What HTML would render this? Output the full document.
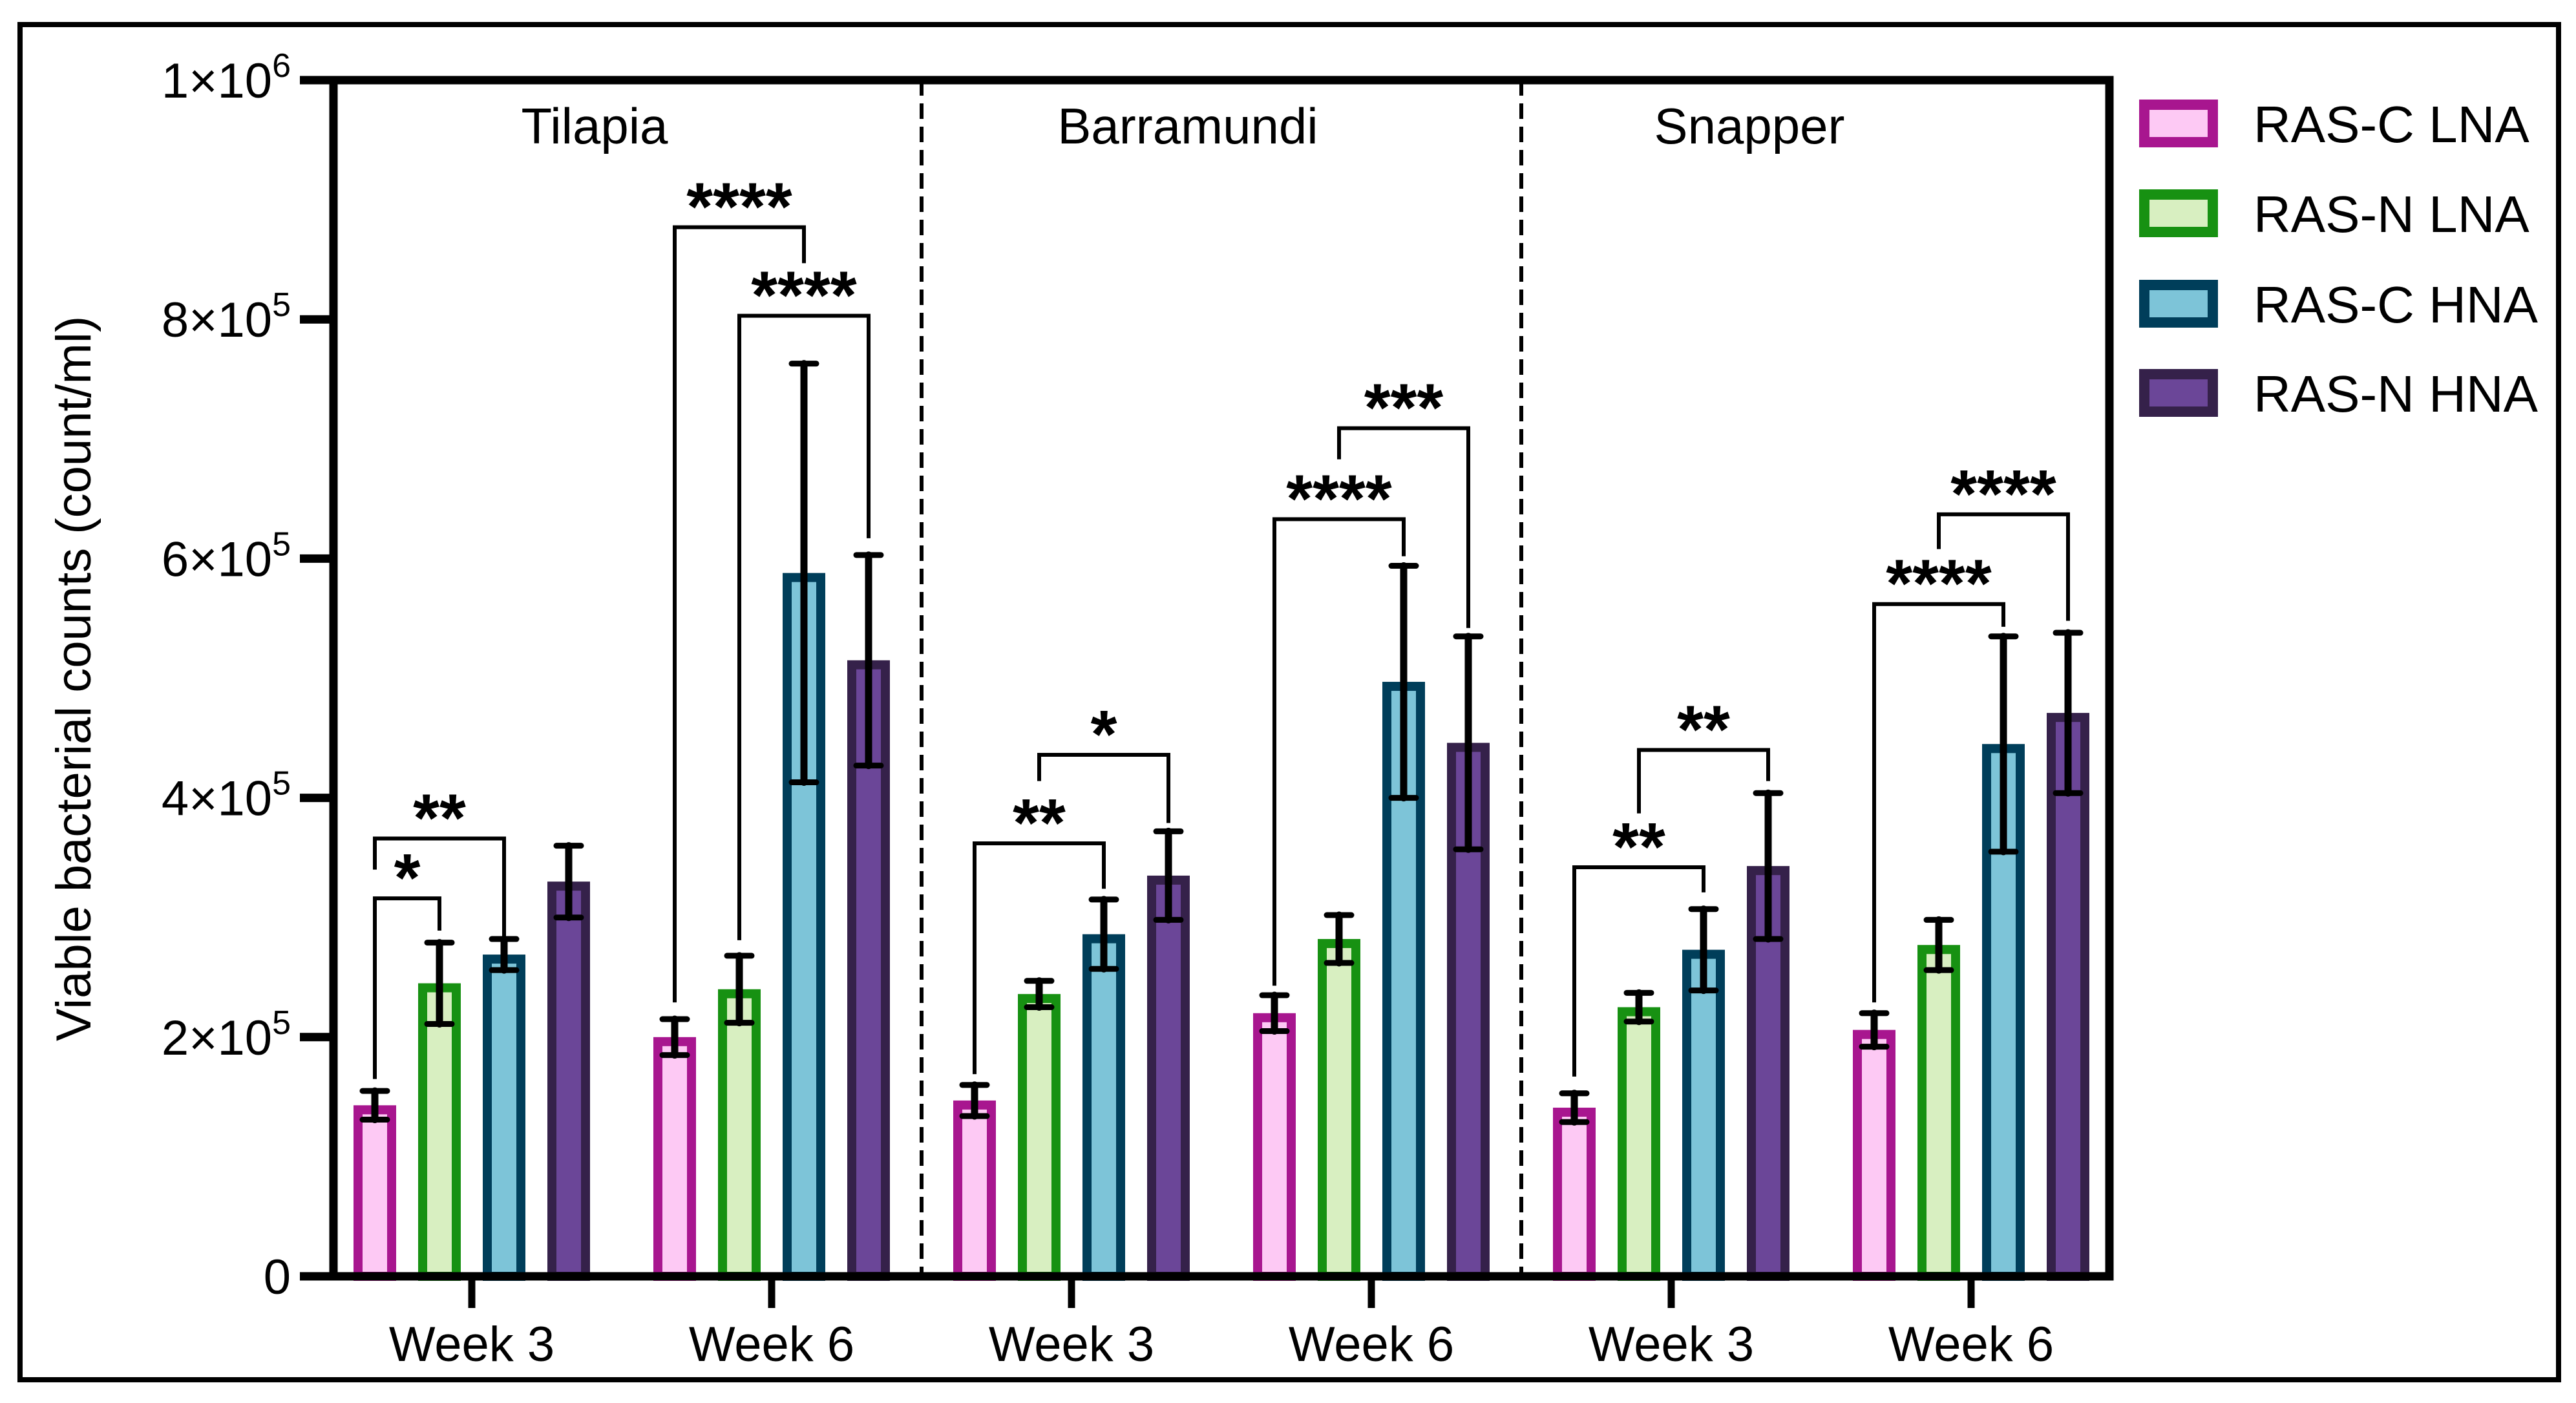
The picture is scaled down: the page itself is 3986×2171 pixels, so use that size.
<!DOCTYPE html>
<html><head><meta charset="utf-8"><style>
html,body{margin:0;padding:0;background:#fff;}
svg{display:block;}
text{font-family:"Liberation Sans",Arial,sans-serif;fill:#000;}
</style></head><body>
<svg id="chart" width="3986" height="2171" viewBox="0 0 3986 2171" xmlns="http://www.w3.org/2000/svg">
<rect x="31" y="38" width="3928" height="2097" fill="none" stroke="#000" stroke-width="8"/>
<g id="plot"></g>
</svg>
<script>
const groups = ["Week 3","Week 6","Week 3","Week 6","Week 3","Week 6"];
const panels = ["Tilapia","Barramundi","Snapper"];
const series = ["RAS-C LNA","RAS-N LNA","RAS-C HNA","RAS-N HNA"];
const rasCLNA = [143000,200000,147000,220000,141000,206000];
const rasNLNA = [245000,240000,236000,282000,225000,277000];
const rasCHNA = [269000,588000,286000,497000,273000,445000];
const rasNHNA = [330000,515000,335000,446000,343000,471000];
const errCLNA = [12000,15000,13000,15000,12000,14000];
const errNLNA = [34000,28000,11000,20000,12000,21000];
const errCHNA = [13000,175000,29000,97000,34000,90000];
const errNHNA = [30000,88000,37000,89000,61000,67000];
const yTicks = [0,200000,400000,600000,800000,1000000];
const yTickBase = ["0","2×10","4×10","6×10","8×10","1×10"];
const yTickExp = ["","5","5","5","5","6"];
// brackets: group, barA, barB, level, leftEnd, rightEnd, label
const brackets = [
 [0,0,1,316000,165000,289000,"*"],
 [0,0,2,366000,340000,284000,"**"],
 [1,0,2,877000,229000,847000,"****"],
 [1,1,3,803000,281000,617000,"****"],
 [2,0,2,362000,169000,324000,"**"],
 [2,1,3,436000,414000,379000,"*"],
 [3,0,2,633000,243000,602000,"****"],
 [3,1,3,709000,683000,542000,"***"],
 [4,0,2,342000,167000,321000,"**"],
 [4,1,3,440000,387000,414000,"**"],
 [5,0,2,562000,229000,543000,"****"],
 [5,1,3,637000,608000,548000,"****"]
];
const vals=[rasCLNA,rasNLNA,rasCHNA,rasNHNA];
const errs=[errCLNA,errNLNA,errCHNA,errNHNA];
const fills=["#fdc9f4","#d8efc1","#7dc4d8","#6b4698"];
const strokes=["#a8168f","#179112","#003e5a","#35214a"];
const NS="http://www.w3.org/2000/svg";
const g=document.getElementById('plot');
const X0=516,X1=3264,Y0=1975,Y1=124;
function y(v){return Y0-(v/1000000)*(Y0-Y1);}
function gx(i){return 730+i*464;}
function bx(i,j){return gx(i)+(j-1.5)*100;}
function mk(tag,attrs,parent){const e=document.createElementNS(NS,tag);for(const k in attrs)e.setAttribute(k,attrs[k]);(parent||g).appendChild(e);return e;}
for(let j=0;j<4;j++){for(let i=0;i<groups.length;i++){
 const v=vals[j][i],cx=bx(i,j),w=66,sw=14;
 const r=mk('rect',{x:cx-w/2+sw/2,y:y(v)+sw/2,width:w-sw,height:Y0-y(v)-sw/2,fill:fills[j],stroke:strokes[j],'stroke-width':sw});
 
 
}}
for(let j=0;j<4;j++){for(let i=0;i<groups.length;i++){
 const v=vals[j][i],e=errs[j][i],cx=bx(i,j);
 const eg=mk('g',{stroke:'#000','stroke-linecap':'round'});
 
 
 mk('line',{x1:cx,x2:cx,y1:y(v+e),y2:y(v-e),'stroke-width':11},eg);
 mk('line',{x1:cx-19,x2:cx+19,y1:y(v+e),y2:y(v+e),'stroke-width':9},eg);
 mk('line',{x1:cx-19,x2:cx+19,y1:y(v-e),y2:y(v-e),'stroke-width':9},eg);
}}
brackets.forEach(b=>{
 const [i,a,c,lv,le,re,lab]=b;
 const xa=bx(i,a),xc=bx(i,c);
 const p=mk('path',{d:`M${xa},${y(le)}V${y(lv)}H${xc}V${y(re)}`,fill:'none',stroke:'#000','stroke-width':6});
 
 
 const t=mk('text',{x:(xa+xc)/2,y:y(lv)+4,'text-anchor':'middle','font-size':105,'font-weight':'bold'});
 t.textContent=lab;
 
 
});
[0,1].forEach(k=>{
 const sx=(gx(2*k+1)+gx(2*k+2))/2;
 const l=mk('line',{x1:sx,x2:sx,y1:Y1,y2:Y0,stroke:'#000','stroke-width':6,'stroke-dasharray':'24 12'});
 
 
});
panels.forEach((p,k)=>{
 const t=mk('text',{x:[920,1838,2707][k],y:222,'text-anchor':'middle','font-size':78});
 t.textContent=p;
 
 
});
const ax=mk('path',{d:`M464,${Y1}H${X1}V${Y0}H464M${X0},${Y1}V${Y0}`,fill:'none',stroke:'#000','stroke-width':13});


yTicks.forEach((v,k)=>{
 const tl=mk('line',{x1:464,x2:X0,y1:y(v),y2:y(v),stroke:'#000','stroke-width':13});
 
 
 const t=mk('text',{x:450,y:y(v)+27,'text-anchor':'end','font-size':76});
 
 
 t.textContent=yTickBase[k];
 if(yTickExp[k]){const s=mk('tspan',{'font-size':52,dy:-32},t);s.textContent=yTickExp[k];}
});
groups.forEach((w,i)=>{
 const tl=mk('line',{x1:gx(i),x2:gx(i),y1:Y0,y2:2024,stroke:'#000','stroke-width':11});
 
 
 const t=mk('text',{x:gx(i),y:2106,'text-anchor':'middle','font-size':76});
 t.textContent=w;
 
 
});
const yt=mk('text',{x:0,y:0,transform:'translate(140,1050) rotate(-90)','text-anchor':'middle','font-size':76});
yt.textContent='Viable bacterial counts (count/ml)';


series.forEach((s,j)=>{
 const cy=[191,330,470,608][j];
 const lg=mk('g',{});
 
 
 mk('rect',{x:3318,y:cy-29,width:106,height:58,fill:fills[j],stroke:strokes[j],'stroke-width':16},lg);
 const t=mk('text',{x:3487,y:cy+29,'font-size':80},lg);
 t.textContent=s;
});
</script>
</body></html>
